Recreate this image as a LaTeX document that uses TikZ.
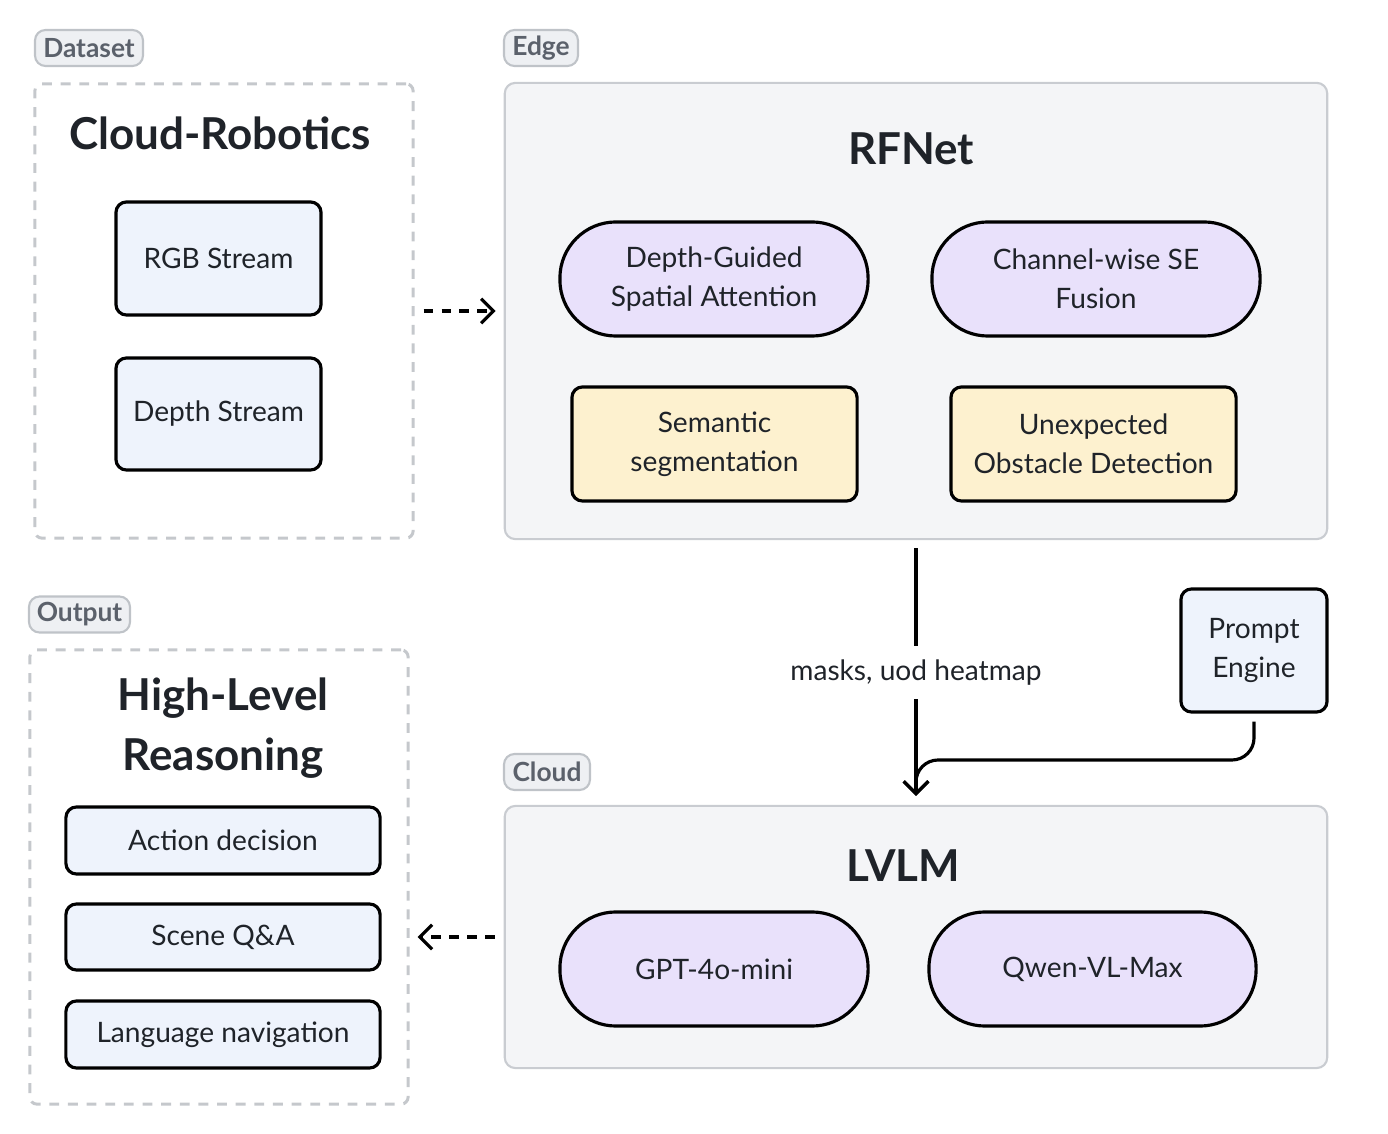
\documentclass[tikz,border=0pt]{standalone}
\usepackage{fontspec}
\setmainfont{Lato}
\usetikzlibrary{arrows.meta}

\definecolor{inkblack}{HTML}{1F2329}
\definecolor{taggray}{HTML}{5B616B}
\definecolor{tagfill}{HTML}{EEF0F3}
\definecolor{tagline}{HTML}{BFC3C8}
\definecolor{groupline}{HTML}{C5C8CC}
\definecolor{panelfill}{HTML}{F4F5F7}
\definecolor{panelline}{HTML}{C9CCD1}
\definecolor{blockblue}{HTML}{EEF3FC}
\definecolor{blockcream}{HTML}{FDF1CF}
\definecolor{pilllav}{HTML}{E9E1FB}

\tikzset{
  tag/.style={draw=tagline, fill=tagfill, rounded corners=3pt, line width=0.6pt,
    text=taggray, font=\bfseries\fontsize{7.5}{9}\selectfont, inner sep=0pt,
    minimum height=0.36cm},
  group/.style={draw=groupline, dash pattern=on 2.8pt off 2.5pt, line width=0.85pt,
    rounded corners=2pt, inner sep=0pt},
  panel/.style={draw=panelline, fill=panelfill, line width=0.6pt, rounded corners=3pt,
    inner sep=0pt},
  title/.style={font=\bfseries\fontsize{12.5}{17}\selectfont, text=inkblack, align=center},
  block/.style={draw=black, line width=0.9pt, rounded corners=3pt,
    font=\fontsize{8}{11}\selectfont, text=inkblack, align=center, inner sep=0pt},
  bluebox/.style={block, fill=blockblue},
  creambox/.style={block, fill=blockcream},
  pill/.style={block, fill=pilllav, rounded corners=0.56cm},
  flow/.style={line width=0.9pt, -{Straight Barb[length=3.5pt,width=7pt]}},
  dflow/.style={flow, dash pattern=on 2.8pt off 2.3pt},
}

\begin{document}
\begin{tikzpicture}[x=0.01cm, y=-0.01cm]

\useasboundingbox (0,0) rectangle (1388,1134);

% dataset
\node[group, minimum width=3.78cm, minimum height=4.54cm] (dataset) at (224,311) {};
\node[tag, minimum width=1.08cm] (datasettag) at (89,48) {Dataset};
\node[title] (robotics) at (220,133) {Cloud-Robotics};
\node[bluebox, minimum width=2.05cm, minimum height=1.13cm] (rgb) at (218.5,258.5) {RGB Stream};
\node[bluebox, minimum width=2.05cm, minimum height=1.12cm] (depth) at (218.5,414) {Depth Stream};

% edge
\node[panel, minimum width=8.22cm, minimum height=4.56cm] (edge) at (916,311) {};
\node[tag, minimum width=0.74cm] (edgetag) at (541,48) {Edge};
\node[title] (rfnet) at (911,149) {RFNet};
\node[pill, minimum width=3.08cm, minimum height=1.14cm] (attn) at (714,279) {Depth-Guided\\Spatial Attention};
\node[pill, minimum width=3.28cm, minimum height=1.14cm] (sefusion) at (1096,279) {Channel-wise SE\\Fusion};
\node[creambox, minimum width=2.85cm, minimum height=1.14cm] (semseg) at (714.5,444) {Semantic\\segmentation};
\node[creambox, minimum width=2.85cm, minimum height=1.14cm] (uod) at (1093.5,444) {Unexpected\\Obstacle Detection};

% cloud
\node[panel, minimum width=8.22cm, minimum height=2.62cm] (cloud) at (916,937) {};
\node[tag, minimum width=0.86cm] (cloudtag) at (547,772) {Cloud};
\node[title] (lvlm) at (903,866) {LVLM};
\node[pill, minimum width=3.08cm, minimum height=1.14cm] (gpt) at (714,969) {GPT-4o-mini};
\node[pill, minimum width=3.27cm, minimum height=1.14cm] (qwen) at (1092.5,969) {Qwen-VL-Max};

\node[bluebox, minimum width=1.46cm, minimum height=1.23cm] (prompt) at (1254,650.5) {Prompt\\Engine};

% output
\node[group, minimum width=3.78cm, minimum height=4.54cm] (output) at (219,877) {};
\node[tag, minimum width=1.01cm] (outputtag) at (79.5,614.5) {Output};
\node[title] (reasoning) at (223,728) {High-Level\\Reasoning};
\node[bluebox, minimum width=3.14cm, minimum height=0.67cm] (action) at (223,840.5) {Action decision};
\node[bluebox, minimum width=3.14cm, minimum height=0.66cm] (sceneqa) at (223,937) {Scene Q\&A};
\node[bluebox, minimum width=3.14cm, minimum height=0.67cm] (langnav) at (223,1034.5) {Language navigation};

% connectors
\draw[dflow, shorten <=0.09cm, shorten >=0.08cm] (dataset) -- (edge);
\draw[flow, shorten <=0.08cm, shorten >=0.09cm] (edge.south) -- node[fill=white,
  font=\fontsize{8}{11}\selectfont, text=inkblack, inner xsep=2pt, inner ysep=4pt]
  (masks) {masks, uod heatmap} (cloud.north);
\coordinate (merge) at (916,760);
\draw[flow, rounded corners=0.22cm, shorten <=0.08cm, shorten >=0.09cm]
  (prompt.south) |- (merge) -- (cloud.north);
\draw[dflow, shorten <=0.09cm, shorten >=0.08cm] (cloud.west) -- (cloud.west -| output.east);

\end{tikzpicture}
\end{document}
